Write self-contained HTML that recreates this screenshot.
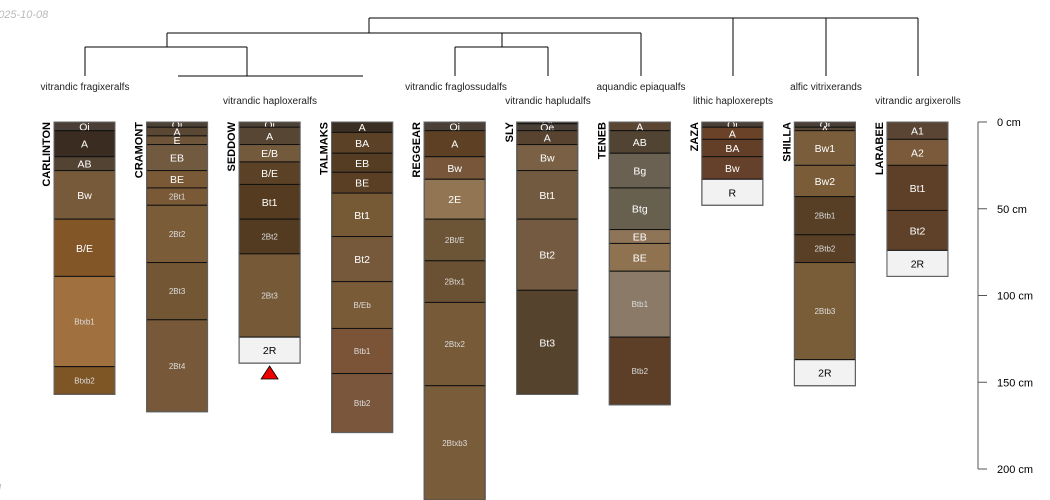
<!DOCTYPE html>
<html><head><meta charset="utf-8"><style>
html,body{margin:0;padding:0;background:#fff;width:1050px;height:500px;overflow:hidden}
svg{display:block;font-family:"Liberation Sans",sans-serif}
</style></head><body>
<svg id="chart" width="1050" height="500" viewBox="0 0 1050 500" xmlns="http://www.w3.org/2000/svg">
<text x="-8" y="18" font-size="11" font-style="italic" fill="#bbb">2025-10-08</text>
<text x="-4" y="492" font-size="11" font-style="italic" fill="#bbb">ll</text>
<g id="dendro" stroke="#000" stroke-width="1" fill="none">
<path d="M369,18H918M369,18V33M167,33H641M167,33V47M85,47H247M85,47V76M247,47V76M178,76H363M502,33V47M455,47H548M455,47V76M548,47V76M641,33V76M733,18V76M826,18V76M918,18V76"/>
</g>
<g id="taxa" font-size="10" fill="#222" text-anchor="middle"></g>
<g id="profiles"></g>
<g id="axis"></g>
</svg>
<script>
const profileNames = ["CARLINTON","CRAMONT","SEDDOW","TALMAKS","REGGEAR","SLY","TENEB","ZAZA","SHILLA","LARABEE"];
const horizonNames = [
 ["Oi","A","AB","Bw","B/E","Btxb1","Btxb2"],
 ["Oi","A","E","EB","BE","2Bt1","2Bt2","2Bt3","2Bt4"],
 ["Oi","A","E/B","B/E","Bt1","2Bt2","2Bt3","2R"],
 ["A","BA","EB","BE","Bt1","Bt2","B/Eb","Btb1","Btb2"],
 ["Oi","A","Bw","2E","2Bt/E","2Btx1","2Btx2","2Btxb3"],
 ["Oi","Oe","A","Bw","Bt1","Bt2","Bt3"],
 ["A","AB","Bg","Btg","EB","BE","Btb1","Btb2"],
 ["Oi","A","BA","Bw","R"],
 ["Oi","A","Bw1","Bw2","2Btb1","2Btb2","2Btb3","2R"],
 ["A1","A2","Bt1","Bt2","2R"]
];
const horizonBottoms = [
 [5,20,28,56,89,141,157],
 [3,8,13,28,38,48,81,114,167],
 [3,13,23,36,56,76,124,139],
 [6,18,29,41,66,92,119,145,179],
 [5,20,33,56,80,104,152,218],
 [1,5,13,28,56,97,157],
 [5,18,38,62,70,86,124,163],
 [3,10,20,33,48],
 [3,5,25,43,65,81,137,152],
 [10,25,51,74,89]
];
const horizonColors = [
 ["#4a3f36","#3a2c20","#524332","#765a3a","#835628","#a0703f","#7e5525"],
 ["#4d4236","#5a4835","#6e5438","#725a40","#7a5a36","#7a5a36","#7a5c38","#735734","#77593a"],
 ["#4d4236","#574634","#735a3c","#5b4126","#553b20","#533b22","#765a38","#f2f2f2"],
 ["#3b2e22","#5b4125","#553d23","#5a3f24","#765a36","#76583a","#7a5b38","#7b5438","#7a573c"],
 ["#4a4038","#5e4125","#77563a","#927552","#6c5436","#6b5133","#775a38","#795c39"],
 ["#4a4038","#4a4038","#574330","#7a6044","#725a40","#735a40","#56432e"],
 ["#5a4632","#524432","#6a6152","#67604f","#8f7558","#8f7250","#8b7a68","#5c3f26"],
 ["#4a3f36","#6a4228","#633f28","#65402a","#f2f2f2"],
 ["#4a3f36","#5a4634","#7a5d3a","#7a5c38","#563f25","#593f25","#795c38","#f2f2f2"],
 ["#5a4535","#7a5a3a","#5e3f27","#5f4028","#f2f2f2"]
];
const taxaNames = ["vitrandic fragixeralfs","vitrandic haploxeralfs","vitrandic fraglossudalfs","vitrandic hapludalfs","aquandic epiaqualfs","lithic haploxerepts","alfic vitrixerands","vitrandic argixerolls"];
const taxaX = [85,270,456,548,641,733,826,918];
const depthTicks = [0,50,100,150,200];

const NS="http://www.w3.org/2000/svg";
const y0=122, pxPerCm=1.735;
const yScale = d => y0 + d*pxPerCm;
const xScale = i => 54 + i*92.55;
const W=61;
function mk(tag, attrs, parent){const e=document.createElementNS(NS,tag);for(const k in attrs)e.setAttribute(k,attrs[k]);parent.appendChild(e);return e;}

const taxa=document.getElementById('taxa');
taxaNames.forEach((t,i)=>{
  const e=mk('text',{x:taxaX[i],y:(i%2===0?90:104)},taxa);
  
  
  e.textContent=t;
});

const pg=document.getElementById('profiles');
profileNames.forEach((p,i)=>{
  const g=mk('g',{},pg);
  
  
  const x=xScale(i);
  const lab=mk('text',{transform:`translate(${x-4},${y0}) rotate(-90)`,'text-anchor':'end','font-size':'11','font-weight':'bold',fill:'#000'},g);
  
  
  lab.textContent=p;
  let top=0;
  horizonBottoms[i].forEach((b,j)=>{
    const ya=yScale(top), yb=Math.min(yScale(b),502);
    const r=mk('rect',{x:x,y:ya,width:W,height:yb-ya,fill:horizonColors[i][j],stroke:'#111','stroke-width':'1'},g);
    
    
    const nm=horizonNames[i][j];
    const isR=horizonColors[i][j]==='#f2f2f2';
    const fs = nm.length>=4 ? 8 : 10.5;
    const t=mk('text',{x:x+W/2,y:(ya+Math.min(yb,500))/2+fs*0.38,'text-anchor':'middle','font-size':fs,fill:isR?'#000':(fs<10?'#ddd':'#fff')},g);
    
    
    t.textContent=nm;
    top=b;
  });
  mk('rect',{x:x,y:y0,width:W,height:Math.min(yScale(top),502)-y0,fill:'none',stroke:'#666','stroke-width':'1'},g);
});
const tri=mk('polygon',{points:`${xScale(2)+22},379 ${xScale(2)+39},379 ${xScale(2)+30.5},366`,fill:'#e00',stroke:'#000','stroke-width':'0.8'},pg);



const ax=document.getElementById('axis');
mk('line',{x1:978,x2:978,y1:yScale(0),y2:yScale(200),stroke:'#555','stroke-width':'1'},ax);
depthTicks.forEach(d=>{
  mk('line',{x1:978,x2:987,y1:yScale(d),y2:yScale(d),stroke:'#555','stroke-width':'1'},ax);
  const t=mk('text',{x:997,y:yScale(d)+4,'font-size':'11',fill:'#000'},ax);
  
  
  t.textContent=d+' cm';
});
</script>
</body></html>
